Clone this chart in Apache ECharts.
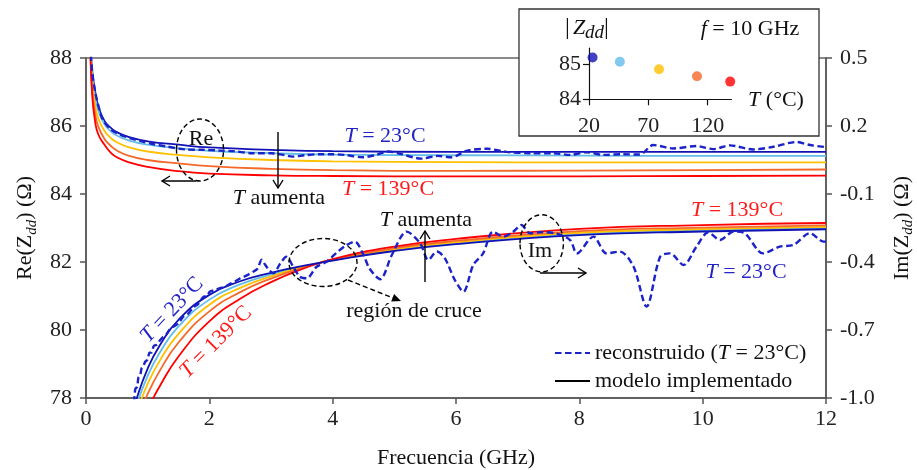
<!DOCTYPE html>
<html><head><meta charset="utf-8">
<script src="https://cdn.jsdelivr.net/npm/echarts@6/dist/echarts.min.js"></script>
<style>html,body{margin:0;padding:0;background:#fff}#c{width:917px;height:470px}</style>
</head><body><div id="c"></div>
<script>
// ---------- data ----------
// model: real part (left axis)
const fRe    = [0.07, 0.1, 0.15, 0.2, 0.3, 0.4, 0.5, 0.7, 1.0, 1.5, 2, 3, 4, 6, 8, 10, 12];
const reT23  = [88.45, 87.64, 87.0, 86.58, 86.15, 85.95, 85.82, 85.67, 85.55, 85.45, 85.37, 85.30, 85.26, 85.24, 85.24, 85.24, 85.24];
const reT46  = [88.4, 87.5, 86.85, 86.45, 86.05, 85.85, 85.72, 85.57, 85.45, 85.35, 85.27, 85.20, 85.16, 85.14, 85.13, 85.12, 85.12];
const reT80  = [88.35, 87.3, 86.6, 86.22, 85.85, 85.65, 85.52, 85.37, 85.25, 85.15, 85.08, 85.00, 84.96, 84.94, 84.93, 84.93, 84.93];
const reT110 = [88.3, 87.1, 86.35, 85.98, 85.62, 85.42, 85.28, 85.12, 85.00, 84.90, 84.82, 84.74, 84.70, 84.68, 84.69, 84.70, 84.72];
const reT139 = [88.3, 86.9, 86.1, 85.75, 85.45, 85.22, 85.08, 84.93, 84.80, 84.67, 84.60, 84.55, 84.53, 84.52, 84.52, 84.53, 84.54];
// model: imaginary part (right axis)
const fIm    = [0.7, 0.8, 1.0, 1.2, 1.5, 2.0, 2.5, 3.0, 3.5, 4.0, 5.0, 6.0, 8.0, 10, 12];
const imT23  = [-1.11, -1.02, -0.87, -0.766, -0.655, -0.545, -0.485, -0.4475, -0.4185, -0.3935, -0.3515, -0.3215, -0.2815, -0.2655, -0.2555];
const imT46  = [-1.133, -1.047, -0.902, -0.798, -0.684, -0.566, -0.499, -0.455, -0.421, -0.392, -0.348, -0.317, -0.277, -0.260, -0.251];
const imT80  = [-1.159, -1.077, -0.938, -0.834, -0.717, -0.589, -0.514, -0.463, -0.424, -0.391, -0.344, -0.313, -0.271, -0.255, -0.245];
const imT110 = [-1.191, -1.113, -0.982, -0.878, -0.755, -0.618, -0.533, -0.473, -0.427, -0.389, -0.339, -0.307, -0.264, -0.248, -0.238];
const imT139 = [-1.24, -1.17, -1.05, -0.946, -0.817, -0.662, -0.562, -0.489, -0.432, -0.387, -0.332, -0.298, -0.254, -0.237, -0.228];
// reconstructed (T = 23 °C)
const fReRec = [0.07, 0.1, 0.15, 0.2, 0.27, 0.4, 0.55, 0.7, 0.9, 1.08, 1.3, 1.62, 1.9, 2.16, 2.4, 2.7, 3.0, 3.2, 3.35, 3.55, 3.78, 4.0, 4.2, 4.49, 4.7, 4.9, 5.1, 5.44, 5.7, 5.93, 6.17, 6.5, 6.82, 7.2, 7.58, 7.85, 8.12, 8.39, 8.7, 8.98, 9.2, 9.52, 9.9, 10.17, 10.44, 10.82, 11.15, 11.52, 11.74, 12.0];
const reRec  = [88.4, 87.6, 87.0, 86.6, 86.2, 85.9, 85.75, 85.65, 85.55, 85.47, 85.4, 85.31, 85.3, 85.28, 85.26, 85.2, 85.2, 85.15, 85.1, 85.14, 85.17, 85.17, 85.15, 85.08, 85.15, 85.25, 85.18, 85.04, 85.12, 85.08, 85.27, 85.33, 85.24, 85.2, 85.2, 85.15, 85.23, 85.15, 85.17, 85.16, 85.44, 85.34, 85.41, 85.32, 85.43, 85.31, 85.39, 85.53, 85.44, 85.38];
const fImRec = [0.78, 0.8, 0.83, 0.85, 0.88, 0.9, 0.93, 0.96, 1.0, 1.03, 1.06, 1.1, 1.15, 1.2, 1.25, 1.3, 1.35, 1.42, 1.5, 1.58, 1.65, 1.74, 1.82, 1.9, 1.96, 2.01, 2.08, 2.17, 2.25, 2.33, 2.42, 2.5, 2.6, 2.71, 2.78, 2.85, 2.9, 2.96, 3.04, 3.15, 3.25, 3.36, 3.47, 3.58, 3.74, 3.9, 4.06, 4.2, 4.36, 4.5, 4.6, 4.77, 4.96, 5.2, 5.42, 5.55, 5.69, 5.82, 5.98, 6.12, 6.28, 6.44, 6.6, 6.77, 6.93, 7.06, 7.2, 7.4, 7.63, 7.85, 7.96, 8.23, 8.44, 8.66, 8.88, 9.09, 9.31, 9.47, 9.69, 9.9, 10.09, 10.28, 10.5, 10.66, 10.98, 11.25, 11.47, 11.74, 11.96, 12.0];
const imRec  = [-1.02, -0.96, -0.95, -0.91, -0.90, -0.87, -0.86, -0.84, -0.83, -0.80, -0.80, -0.77, -0.765, -0.745, -0.73, -0.72, -0.70, -0.685, -0.67, -0.64, -0.63, -0.60, -0.585, -0.555, -0.55, -0.53, -0.525, -0.515, -0.51, -0.497, -0.485, -0.472, -0.46, -0.443, -0.43, -0.39, -0.41, -0.432, -0.45, -0.406, -0.377, -0.421, -0.465, -0.472, -0.421, -0.399, -0.36, -0.33, -0.31, -0.369, -0.43, -0.476, -0.369, -0.266, -0.318, -0.391, -0.354, -0.384, -0.479, -0.531, -0.413, -0.362, -0.266, -0.288, -0.266, -0.237, -0.273, -0.268, -0.275, -0.303, -0.362, -0.288, -0.362, -0.354, -0.421, -0.597, -0.377, -0.362, -0.413, -0.332, -0.269, -0.303, -0.266, -0.27, -0.362, -0.332, -0.325, -0.273, -0.31, -0.31];
// inset: |Zdd| at f = 10 GHz
const insetT = [23, 46, 79, 111, 139];
const insetZ = [85.18, 85.06, 84.85, 84.65, 84.5];
const insetXTicks = [20, 70, 120];
const insetYTicks = [84, 85];

// ---------- styles ----------
const FONT = 'Liberation Serif';
const COLORS = ['#1212b4', '#62bde8', '#ffc000', '#f4692a', '#ff0000'];
const DASH_BLUE = '#1a22c8';
const AX = '#555';
const pairs = (xs, ys) => xs.map((x, i) => [x, ys[i]]);

const reSets = [reT23, reT46, reT80, reT110, reT139];
const imSets = [imT23, imT46, imT80, imT110, imT139];

const series = [];
reSets.forEach((d, i) => series.push({
  type: 'line', name: 're' + i, xAxisIndex: 0, yAxisIndex: 0, data: pairs(fRe, d),
  showSymbol: false, symbol: 'none', smooth: 0.5, clip: true,
  lineStyle: { color: COLORS[i], width: 1.8 }, z: 2, silent: true
}));
imSets.forEach((d, i) => series.push({
  type: 'line', name: 'im' + i, xAxisIndex: 0, yAxisIndex: 1, data: pairs(fIm, d),
  showSymbol: false, symbol: 'none', smooth: 0.5, clip: true,
  lineStyle: { color: COLORS[i], width: 1.8 }, z: 2 + (i === 0 ? 0.5 : 0), silent: true
}));
series.push({
  type: 'line', name: 'reconstruido', xAxisIndex: 0, yAxisIndex: 0, data: pairs(fReRec, reRec),
  symbol: 'none', showSymbol: false, smooth: 0.3, clip: true, color: DASH_BLUE,
  lineStyle: { color: DASH_BLUE, width: 2.4, type: [6.5, 3.5] }, z: 3
});
series.push({
  type: 'line', name: 'reconstruido', xAxisIndex: 0, yAxisIndex: 1, data: pairs(fImRec, imRec),
  symbol: 'none', showSymbol: false, smooth: 0.3, clip: true, color: DASH_BLUE,
  lineStyle: { color: DASH_BLUE, width: 2.4, type: [6.5, 3.5] }, z: 3
});
series.push({
  type: 'line', name: 'modelo', xAxisIndex: 0, yAxisIndex: 0, data: [],
  symbol: 'none', color: '#000', lineStyle: { color: '#000', width: 2 }
});
series.push({
  type: 'scatter', name: 'inset', xAxisIndex: 1, yAxisIndex: 2, z: 62,
  symbolSize: 10, data: insetT.map((t, i) => ({ value: [t, insetZ[i]], itemStyle: { color: COLORS[i] } }))
});

const labelStyle = { fontFamily: FONT, fontSize: 22, color: '#222' };
const rich = {
  n: { fontFamily: FONT, fontSize: 22, fill: '#111', color: '#111', lineHeight: 28 },
  i: { fontFamily: FONT, fontSize: 22, fill: '#111', color: '#111', fontStyle: 'italic', lineHeight: 28 },
  s: { fontFamily: FONT, fontSize: 15, fill: '#111', color: '#111', fontStyle: 'italic', lineHeight: 12, verticalAlign: 'bottom' },
  S: { fontFamily: FONT, fontSize: 19, fill: '#111', color: '#111', fontStyle: 'italic', lineHeight: 14, verticalAlign: 'bottom' },
  b: { fontFamily: FONT, fontSize: 24, fill: '#111', color: '#111', lineHeight: 28 },
  z: { fontFamily: FONT, fontSize: 22, fill: '#111', color: '#111', fontStyle: 'italic', lineHeight: 28, padding: [0, 0, 0, 3] }
};
function txt(x, y, text, color, opts) {
  const r = {};
  Object.keys(rich).forEach(k => { r[k] = Object.assign({}, rich[k], { fill: color, color: color }); });
  return Object.assign({
    type: 'text', x: x, y: y, z: 70,
    style: { text: text, x: 0, y: 0, align: 'center', verticalAlign: 'middle', fill: color, rich: r,
             fontFamily: FONT, fontSize: 22 }
  }, opts || {});
}
function line(x1, y1, x2, y2, dash) {
  return { type: 'line', z: 70, shape: { x1, y1, x2, y2 }, style: { stroke: '#000', lineWidth: 1.4, lineDash: dash || null } };
}
function head(pts) {
  return { type: 'polyline', z: 70, shape: { points: pts }, style: { stroke: '#000', lineWidth: 1.4, fill: null } };
}
function ell(cx, cy, rx, ry) {
  return { type: 'ellipse', z: 70, shape: { cx, cy, rx, ry }, style: { stroke: '#000', lineWidth: 1.4, fill: null, lineDash: [5, 3] } };
}
const BLUE_T = '#2424c4', RED_T = '#ff1a1a';

const graphic = [
  // inset frame
  { type: 'rect', z: 50, shape: { x: 519, y: 9, width: 300, height: 127 }, style: { fill: '#fff', stroke: '#333', lineWidth: 1.3 } },
  txt(587, 28, '{b||}{z|Z}{S|dd}{b||}', '#111'),
  txt(750, 29, '{i|f}{n| = 10 GHz}', '#111'),
  txt(776, 100, '{i|T}{n| (°C)}', '#111'),
  // Re annotations
  ell(200, 150, 23.5, 31),
  txt(201, 139, '{n|Re}', '#111'),
  line(196, 181, 162, 181), head([[170, 176], [162, 181], [170, 186]]),
  line(278, 132, 278, 188), head([[273, 180], [278, 188], [283, 180]]),
  txt(279, 198, '{i|T}{n| aumenta}', '#111'),
  txt(385, 136, '{i|T}{n| = 23°C}', BLUE_T),
  txt(388, 189, '{i|T}{n| = 139°C}', RED_T),
  // Im annotations
  ell(323, 262.5, 34, 24),
  line(348, 280, 393, 298, [5, 3]),
  { type: 'polygon', z: 70, shape: { points: [[401, 301], [391.2, 301.4], [394.1, 294]] }, style: { fill: '#000' } },
  txt(414, 311, '{n|región de cruce}', '#111'),
  line(425, 282, 425, 231), head([[420, 239], [425, 231], [430, 239]]),
  txt(426, 220, '{i|T}{n| aumenta}', '#111'),
  ell(541.7, 243.3, 21.7, 28.5),
  txt(540, 251, '{n|Im}', '#111'),
  line(540, 273, 586, 273), head([[578, 268], [586, 273], [578, 278]]),
  txt(737, 210, '{i|T}{n| = 139°C}', RED_T),
  txt(746, 272, '{i|T}{n| = 23°C}', BLUE_T),
  txt(172, 310, '{i|T}{n| = 23°C}', BLUE_T, { rotation: 47 * Math.PI / 180 }),
  txt(216, 342, '{i|T}{n| = 139°C}', RED_T, { rotation: 45 * Math.PI / 180 })
];

const option = {
  animation: false,
  backgroundColor: '#fff',
  textStyle: { fontFamily: FONT },
  grid: [
    { left: 86, right: 91, top: 58, bottom: 72, show: true, borderColor: '#666', borderWidth: 1.5, backgroundColor: 'transparent', outerBoundsMode: 'none', containLabel: false },
    { left: 589, top: 48, width: 142.4, height: 51.3, outerBoundsMode: 'none', containLabel: false }
  ],
  xAxis: [
    { type: 'value', gridIndex: 0, min: 0, max: 12, interval: 2,
      axisLine: { show: true, onZero: false, lineStyle: { color: AX, width: 1.5 } },
      axisTick: { show: true, inside: false, length: 6, lineStyle: { color: AX, width: 1.5 } },
      axisLabel: Object.assign({ margin: 10 }, labelStyle),
      splitLine: { show: false },
      name: 'Frecuencia (GHz)', nameLocation: 'middle', nameGap: 49,
      nameTextStyle: { fontFamily: FONT, fontSize: 22, color: '#111' } },
    { type: 'value', gridIndex: 1, min: 20, max: 140, z: 60,
      axisLine: { show: true, onZero: false, lineStyle: { color: '#111', width: 1.2 } },
      axisTick: { show: true, inside: false, length: 6, customValues: insetXTicks, lineStyle: { color: '#111', width: 1.2 } },
      axisLabel: Object.assign({ margin: 16, customValues: insetXTicks }, labelStyle),
      splitLine: { show: false } }
  ],
  yAxis: [
    { type: 'value', gridIndex: 0, min: 78, max: 88, interval: 2, position: 'left',
      axisLine: { show: true, onZero: false, lineStyle: { color: AX, width: 1.5 } },
      axisTick: { show: true, inside: false, length: 6, lineStyle: { color: AX, width: 1.5 } },
      axisLabel: Object.assign({ margin: 14 }, labelStyle),
      splitLine: { show: false },
      name: '{n|Re(Z}{s|dd}{n|) (Ω)}', nameLocation: 'middle', nameGap: 46, nameRotate: 90,
      nameTextStyle: { fontFamily: FONT, fontSize: 22, color: '#111', rich: rich } },
    { type: 'value', gridIndex: 0, min: -1.0, max: 0.5, interval: 0.3, position: 'right',
      axisLine: { show: true, onZero: false, lineStyle: { color: AX, width: 1.5 } },
      axisTick: { show: true, inside: false, length: 6, lineStyle: { color: AX, width: 1.5 } },
      axisLabel: Object.assign({ margin: 14, formatter: v => v.toFixed(1) }, labelStyle),
      splitLine: { show: false },
      name: '{n|Im(Z}{s|dd}{n|) (Ω)}', nameLocation: 'middle', nameGap: 62, nameRotate: 90,
      nameTextStyle: { fontFamily: FONT, fontSize: 22, color: '#111', rich: rich } },
    { type: 'value', gridIndex: 1, min: 84, max: 85.45, z: 60,
      axisLine: { show: true, onZero: false, lineStyle: { color: '#111', width: 1.2 } },
      axisTick: { show: true, inside: false, length: 6, customValues: insetYTicks, lineStyle: { color: '#111', width: 1.2 } },
      axisLabel: Object.assign({ margin: 8, customValues: insetYTicks }, labelStyle),
      splitLine: { show: false } }
  ],
  legend: {
    orient: 'vertical', left: 549, top: 337, itemWidth: 35, itemHeight: 14, itemGap: 6,
    data: ['reconstruido', 'modelo'], selectedMode: false,
    itemStyle: { opacity: 0 },
    formatter: n => n === 'reconstruido' ? '{n|reconstruido (}{i|T}{n| = 23°C)}' : '{n|modelo implementado}',
    textStyle: { fontFamily: FONT, fontSize: 22, color: '#111', rich: rich }
  },
  graphic: graphic,
  series: series
};
const chart = echarts.init(document.getElementById('c'), null, { renderer: 'canvas' });
chart.setOption(option);
</script></body></html>
